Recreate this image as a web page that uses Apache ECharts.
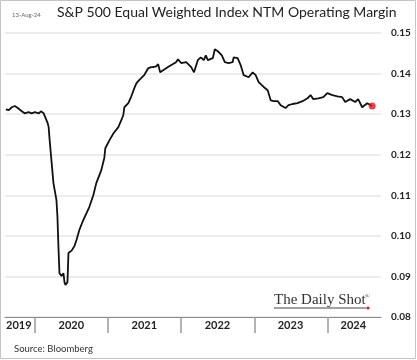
<!DOCTYPE html>
<html><head><meta charset="utf-8">
<script src="https://cdn.jsdelivr.net/npm/echarts@6/dist/echarts.min.js"></script>
<style>html,body{margin:0;padding:0;background:#fff}#c{width:417px;height:360px}</style>
</head><body><div id="c"></div>
<script>
const titleText = 'S&P 500 Equal Weighted Index NTM Operating Margin';
const dateStamp = '13-Aug-24';
const sourceText = 'Source: Bloomberg';
const yTicks = [0.08, 0.09, 0.10, 0.11, 0.12, 0.13, 0.14, 0.15];
const yearLabels = ['2019', '2020', '2021', '2022', '2023', '2024'];
const yearLabelDates = ['2019-10-13', '2020-07-01', '2021-07-01', '2022-07-01', '2023-07-01', '2024-05-10'];
const yearTickDates = ['2020-01-01', '2021-01-01', '2022-01-01', '2023-01-01', '2024-01-01'];
const dates = [
'2019-08-09','2019-08-24','2019-09-08','2019-09-23','2019-10-08','2019-10-28','2019-11-11','2019-12-01','2019-12-16',
'2020-01-01','2020-01-21','2020-01-31','2020-02-14','2020-02-24','2020-03-05','2020-03-10','2020-03-15','2020-04-03',
'2020-04-18','2020-04-23','2020-04-28','2020-05-03','2020-05-13','2020-05-23','2020-05-28','2020-06-02','2020-06-12',
'2020-06-17','2020-07-02','2020-07-17','2020-07-27','2020-08-10','2020-08-30','2020-09-29','2020-10-19','2020-11-03',
'2020-11-28','2020-12-13','2020-12-18',
'2021-01-08','2021-01-28','2021-02-21','2021-03-08','2021-03-18','2021-03-23','2021-04-12','2021-04-27','2021-05-12',
'2021-05-22','2021-06-05','2021-06-30','2021-07-20','2021-08-04','2021-08-14','2021-08-29','2021-09-08','2021-09-18',
'2021-09-23','2021-10-27','2021-12-06','2021-12-16',
'2022-01-01','2022-01-26','2022-02-20','2022-03-06','2022-03-25','2022-04-09','2022-04-24','2022-05-04','2022-05-14',
'2022-06-08','2022-06-18','2022-07-03','2022-07-23','2022-08-07','2022-08-26','2022-09-15','2022-09-20','2022-10-10',
'2022-10-25','2022-11-09','2022-12-04','2022-12-24',
'2023-01-08','2023-01-23','2023-02-17','2023-03-09','2023-03-24','2023-04-08','2023-04-28','2023-05-13','2023-06-06',
'2023-06-21','2023-07-11','2023-08-05','2023-08-30','2023-09-24','2023-10-09','2023-10-23','2023-11-17','2023-12-12',
'2024-01-01','2024-01-26','2024-02-20','2024-03-15','2024-03-30','2024-04-24','2024-05-19','2024-06-03','2024-06-23',
'2024-07-18','2024-08-12'
];
const margin = [
0.1312,0.1310,0.1317,0.1320,0.1315,0.1307,0.1302,0.1305,0.1302,
0.1305,0.1302,0.1307,0.1302,0.1290,0.1278,0.1268,0.1236,0.1130,
0.1088,0.1046,0.0972,0.0908,0.0901,0.0908,0.0886,0.0879,0.0886,
0.0958,0.0963,0.0975,0.0990,0.1014,0.1039,0.1071,0.1100,0.1130,
0.1162,0.1192,0.1216,
0.1236,0.1253,0.1268,0.1285,0.1298,0.1317,0.1327,0.1344,0.1364,
0.1376,0.1384,0.1396,0.1413,0.1416,0.1416,0.1418,0.1423,0.1403,
0.1403,0.1416,0.1428,0.1435,
0.1426,0.1428,0.1416,0.1403,0.1433,0.1440,0.1433,0.1445,0.1433,
0.1438,0.1460,0.1455,0.1445,0.1428,0.1426,0.1428,0.1440,0.1438,
0.1421,0.1396,0.1391,0.1403,
0.1396,0.1379,0.1367,0.1359,0.1334,0.1332,0.1332,0.1322,0.1315,
0.1322,0.1325,0.1327,0.1332,0.1339,0.1347,0.1337,0.1339,0.1342,
0.1352,0.1347,0.1344,0.1342,0.1330,0.1337,0.1330,0.1337,0.1317,
0.1327,0.1320
];

function toTs(s){ const p = s.split('-').map(Number); return Date.UTC(p[0], p[1]-1, p[2]); }
const lineData = dates.map((d, i) => [toTs(d), margin[i]]);
const lastPoint = [[toTs(dates[dates.length-1]), margin[margin.length-1]]];
const labelTs = yearLabelDates.map(toTs);

const chart = echarts.init(document.getElementById('c'), null, {renderer: 'canvas'});
chart.setOption({
  animation: false,
  backgroundColor: '#fff',
  grid: {left: 5, right: 36, top: 33, bottom: 43, containLabel: false},
  xAxis: {
    type: 'value',
    min: toTs('2019-08-05'),
    max: toTs('2024-09-25'),
    axisLine: {show: true, onZero: false, lineStyle: {color: '#8a8a8a', width: 1}},
    axisTick: {show: true, length: 16, lineStyle: {color: '#9a9a9a', width: 1.5},
      customValues: yearTickDates.map(toTs)},
    axisLabel: {show: true, customValues: labelTs, margin: 3,
      fontFamily: 'Lato', fontWeight: 'bold', fontSize: 11, color: '#222',
      formatter: function(v){ const i = labelTs.indexOf(v); return i >= 0 ? yearLabels[i] : ''; }},
    splitLine: {show: false}
  },
  yAxis: {
    type: 'value', position: 'right',
    min: yTicks[0], max: yTicks[yTicks.length-1], interval: 0.01,
    axisLine: {show: false}, axisTick: {show: false},
    axisLabel: {margin: 10, fontFamily: 'Lato', fontWeight: 'bold', fontSize: 10, color: '#222',
      formatter: v => v.toFixed(2)},
    splitLine: {show: true, lineStyle: {color: '#e6e6e6', width: 1.5}}
  },
  series: [
    {type: 'line', data: lineData, showSymbol: false, lineStyle: {color: '#111', width: 1.8}, z: 3},
    {type: 'scatter', data: lastPoint, symbolSize: 7, itemStyle: {color: '#e3141c'}, z: 4}
  ],
  graphic: [
    {type: 'rect', shape: {x: 0.5, y: 0.5, width: 415, height: 358}, style: {fill: 'none', stroke: '#c4c4c4', lineWidth: 1}, silent: true},
    {type: 'text', left: 57, top: 5, style: {text: titleText, fontFamily: 'Lato', fontSize: 14, fill: '#222'}},
    {type: 'text', left: 12, top: 12, style: {text: dateStamp, fontFamily: 'Lato', fontSize: 6, fill: '#666'}},
    {type: 'text', left: 14, top: 344, style: {text: sourceText, fontFamily: 'Lato', fontSize: 9.5, fill: '#333'}},
    {type: 'text', left: 274, top: 293, style: {text: 'The Daily Shot', fontFamily: 'Liberation Serif', fontSize: 15, fill: '#333'}},
    {type: 'text', left: 365, top: 293, style: {text: '®', fontFamily: 'Liberation Serif', fontSize: 6, fill: '#333'}},
    {type: 'line', shape: {x1: 274, y1: 308, x2: 366, y2: 308}, style: {stroke: '#444', lineWidth: 1}},
    {type: 'circle', shape: {cx: 368, cy: 308, r: 1.6}, style: {fill: '#e3141c'}}
  ]
});
</script>
</body></html>
